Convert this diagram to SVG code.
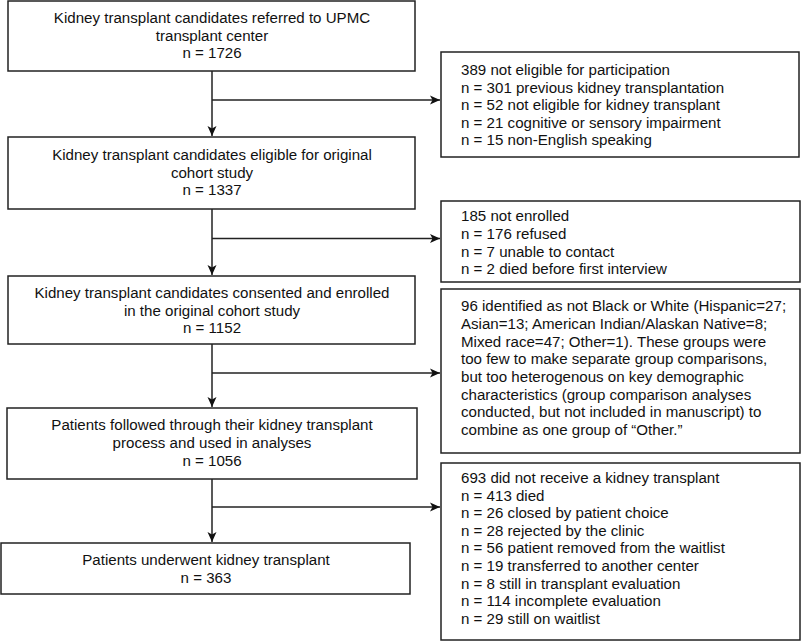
<svg xmlns="http://www.w3.org/2000/svg" width="810" height="643" viewBox="0 0 810 643">
<defs>
<style>
.box{fill:#fff;stroke:#222;stroke-width:1.5}
.t{font-family:"Liberation Sans",Arial,sans-serif;font-size:15.1px;fill:#111}
.c{text-anchor:middle}
.ln{fill:none;stroke:#222;stroke-width:1.5}
</style>
<marker id="ah" viewBox="0 0 10 10" refX="10" refY="5" markerWidth="10" markerHeight="10" markerUnits="userSpaceOnUse" orient="auto">
<path d="M0,0.5 L10,5 L0,9.5 L2.5,5 Z" fill="#111"/>
</marker>
</defs>
<rect width="810" height="643" fill="#fff"/>
<g id="connectors">
<path class="ln" d="M212,71 V136" marker-end="url(#ah)"/>
<path class="ln" d="M212,100 H440" marker-end="url(#ah)"/>
<path class="ln" d="M212,209 V275" marker-end="url(#ah)"/>
<path class="ln" d="M212,238.5 H440" marker-end="url(#ah)"/>
<path class="ln" d="M212,344 V407" marker-end="url(#ah)"/>
<path class="ln" d="M212,373 H440" marker-end="url(#ah)"/>
<path class="ln" d="M212,479 V542" marker-end="url(#ah)"/>
<path class="ln" d="M212,507 H440" marker-end="url(#ah)"/>
</g>
<g id="n1">
<rect class="box" x="8" y="1" width="407" height="70"/>
<text class="t c" x="212" y="23">Kidney transplant candidates referred to UPMC</text>
<text class="t c" x="212" y="41">transplant center</text>
<text class="t c" x="212" y="58">n = 1726</text>
</g>
<g id="n2">
<rect class="box" x="8" y="137" width="407" height="72"/>
<text class="t c" x="212" y="160">Kidney transplant candidates eligible for original</text>
<text class="t c" x="212" y="178">cohort study</text>
<text class="t c" x="212" y="195">n = 1337</text>
</g>
<g id="n3">
<rect class="box" x="8" y="276" width="407" height="68"/>
<text class="t c" x="212" y="298">Kidney transplant candidates consented and enrolled</text>
<text class="t c" x="212" y="316">in the original cohort study</text>
<text class="t c" x="212" y="333">n = 1152</text>
</g>
<g id="n4">
<rect class="box" x="7" y="408" width="410" height="71"/>
<text class="t c" x="212" y="430">Patients followed through their kidney transplant</text>
<text class="t c" x="212" y="448">process and used in analyses</text>
<text class="t c" x="212" y="466">n = 1056</text>
</g>
<g id="n5">
<rect class="box" x="1" y="543" width="409" height="51"/>
<text class="t c" x="206" y="565">Patients underwent kidney transplant</text>
<text class="t c" x="206" y="583">n = 363</text>
</g>
<g id="r1">
<rect class="box" x="441" y="52" width="358" height="105"/>
<text class="t" x="461" y="75">389 not eligible for participation</text>
<text class="t" x="461" y="92.5">n = 301 previous kidney transplantation</text>
<text class="t" x="461" y="110">n = 52 not eligible for kidney transplant</text>
<text class="t" x="461" y="127.5">n = 21 cognitive or sensory impairment</text>
<text class="t" x="461" y="145">n = 15 non-English speaking</text>
</g>
<g id="r2">
<rect class="box" x="441" y="201" width="359" height="81"/>
<text class="t" x="461" y="221">185 not enrolled</text>
<text class="t" x="461" y="239">n = 176 refused</text>
<text class="t" x="461" y="257">n = 7 unable to contact</text>
<text class="t" x="461" y="274">n = 2 died before first interview</text>
</g>
<g id="r3">
<rect class="box" x="441" y="289" width="359" height="164"/>
<text class="t" x="461" y="311">96 identified as not Black or White (Hispanic=27;</text>
<text class="t" x="461" y="329">Asian=13; American Indian/Alaskan Native=8;</text>
<text class="t" x="461" y="346.5">Mixed race=47; Other=1). These groups were</text>
<text class="t" x="461" y="364">too few to make separate group comparisons,</text>
<text class="t" x="461" y="382">but too heterogenous on key demographic</text>
<text class="t" x="461" y="399.5">characteristics (group comparison analyses</text>
<text class="t" x="461" y="417">conducted, but not included in manuscript) to</text>
<text class="t" x="461" y="435">combine as one group of “Other.”</text>
</g>
<g id="r4">
<rect class="box" x="441" y="463" width="359" height="177"/>
<text class="t" x="461" y="483">693 did not receive a kidney transplant</text>
<text class="t" x="461" y="500.5">n = 413 died</text>
<text class="t" x="461" y="518">n = 26 closed by patient choice</text>
<text class="t" x="461" y="535.5">n = 28 rejected by the clinic</text>
<text class="t" x="461" y="553">n = 56 patient removed from the waitlist</text>
<text class="t" x="461" y="571">n = 19 transferred to another center</text>
<text class="t" x="461" y="588.5">n = 8 still in transplant evaluation</text>
<text class="t" x="461" y="606">n = 114 incomplete evaluation</text>
<text class="t" x="461" y="623.5">n = 29 still on waitlist</text>
</g>
</svg>
